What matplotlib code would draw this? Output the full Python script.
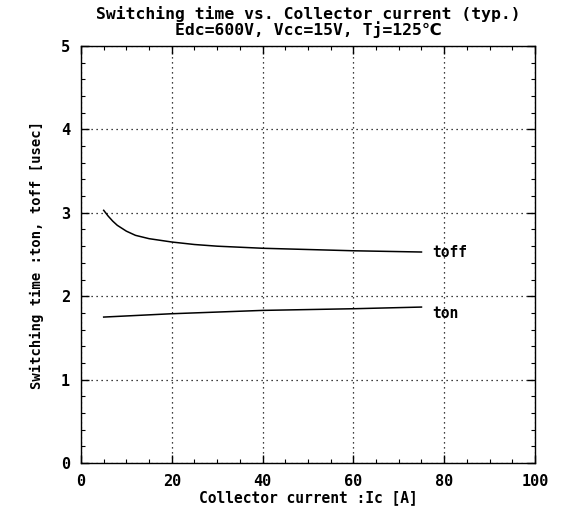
import matplotlib
matplotlib.use("Agg")
import matplotlib.pyplot as plt
from matplotlib.ticker import MultipleLocator

# Data
toff_ic = [5.0, 6.0, 7.0, 8.0, 10.0, 12.0, 15.0, 20.0, 25.0, 30.0, 40.0, 50.0, 60.0, 70.0, 75.0]
toff_t = [3.03, 2.96, 2.90, 2.85, 2.78, 2.73, 2.69, 2.65, 2.62, 2.60, 2.575, 2.56, 2.545, 2.535, 2.53]
ton_ic = [5.0, 20.0, 40.0, 60.0, 75.0]
ton_t = [1.75, 1.79, 1.83, 1.85, 1.87]

title_line1 = "Switching time vs. Collector current (typ.)"
title_line2 = "Edc=600V, Vcc=15V, Tj=125℃"
xlabel = "Collector current :Ic [A]"
ylabel = "Switching time :ton, toff [usec]"
x_ticks = [0, 20, 40, 60, 80, 100]
y_ticks = [0, 1, 2, 3, 4, 5]

plt.rcParams['font.family'] = ['DejaVu Sans Mono', 'DejaVu Sans']

fig = plt.figure(figsize=(5.62, 5.17), dpi=100)
ax = fig.add_axes([0.1441, 0.1044, 0.8078, 0.8066])

ax.plot(toff_ic, toff_t, color='black', lw=1.1)
ax.plot(ton_ic, ton_t, color='black', lw=1.1)

ax.text(77.3, toff_t[-1], "toff", fontsize=10.5, fontweight='bold', va='center', ha='left')
ax.text(77.3, ton_t[-1] - 0.08, "ton", fontsize=10.5, fontweight='bold', va='center', ha='left')

ax.set_xlim(0, 100)
ax.set_ylim(0, 5)
ax.set_xticks(x_ticks)
ax.set_yticks(y_ticks)
ax.xaxis.set_minor_locator(MultipleLocator(5))
ax.yaxis.set_minor_locator(MultipleLocator(0.2))
ax.tick_params(which='major', direction='in', length=6, width=1, labelsize=11, pad=8,
               top=True, right=True)
ax.tick_params(which='minor', direction='in', length=3, width=0.8, top=True, right=True)
for lab in ax.get_xticklabels() + ax.get_yticklabels():
    lab.set_fontweight('bold')
ax.grid(True, which='major', linestyle=(0, (1, 3)), color='black', lw=0.9)
for s in ax.spines.values():
    s.set_linewidth(1.0)

ax.set_xlabel(xlabel, fontsize=10.5, fontweight='bold', labelpad=1)
ax.set_ylabel(ylabel, fontsize=10, fontweight='bold', labelpad=12)

fig.text(0.548, 1 - 14 / 517, title_line1, fontsize=11.8, fontweight='bold',
         ha='center', va='center')
fig.text(0.548, 1 - 30 / 517, title_line2, fontsize=11.8, fontweight='bold',
         ha='center', va='center')

fig.savefig("out.png", dpi=100)
